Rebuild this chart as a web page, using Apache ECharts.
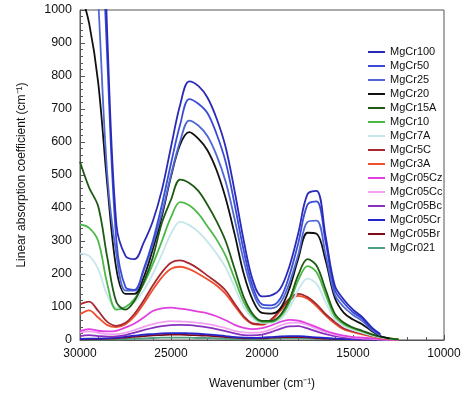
<!DOCTYPE html>
<html>
<head>
<meta charset="utf-8">
<script src="https://cdn.jsdelivr.net/npm/echarts@6/dist/echarts.min.js"></script>
<style>html,body{margin:0;padding:0;background:#fff}#c{width:474px;height:395px}</style>
</head>
<body>
<div id="c"></div>
<script>
const wavenumbers = [30000,29500,29000,28500,28000,27500,27000,26500,26000,25500,25000,24500,24000,23500,23000,22500,22000,21500,21000,20500,20000,19500,19000,18500,18000,17500,17000,16500,16000,15500,15000,14500,14000,13500,13000,12500];
const seriesNames = ['MgCr100','MgCr50','MgCr25','MgCr20','MgCr15A','MgCr10','MgCr7A','MgCr5C','MgCr3A','MgCr05Cz','MgCr05Cc','MgCr05Bc','MgCr05Cr','MgCr05Br','MgCr021'];
const mgCr100  = [2600,2200,1700,920,350,255,245,295,360,455,585,712,784,770,735,672,585,450,300,180,132,135,155,222,325,442,452,312,165,122,92,70,40,18,null,null];
const mgCr50   = [2400,2000,1500,850,300,160,152,215,300,410,535,652,730,716,688,625,540,410,270,160,108,105,125,195,295,410,420,295,152,112,84,65,36,16,null,null];
const mgCr25   = [2000,1500,1030,500,260,150,150,210,290,385,500,602,665,650,618,560,480,365,240,145,98,96,112,172,260,358,362,258,138,100,76,58,32,14,null,null];
const mgCr20   = [1060,960,780,470,215,140,140,190,275,375,495,592,630,610,575,515,430,320,200,120,82,80,95,155,248,325,322,240,128,82,62,48,28,12,4,null];
const mgCr15A  = [540,462,405,250,115,92,120,175,250,355,425,486,476,452,410,360,300,215,130,78,58,58,75,122,198,245,225,152,80,52,38,28,18,10,5,2];
const mgCr10   = [350,340,300,170,92,100,125,170,230,300,372,418,408,383,345,305,255,185,115,72,55,55,70,112,182,224,205,137,72,48,35,26,17,10,5,2];
const mgCr7A   = [262,255,215,135,98,100,115,150,200,260,322,358,348,328,298,262,220,160,100,65,52,52,62,96,152,186,170,114,62,42,30,22,14,8,4,2];
const mgCr5C   = [108,116,88,55,43,52,80,120,165,205,234,241,232,216,195,175,150,110,72,50,48,62,92,125,140,130,108,78,55,35,27,20,13,8,4,2];
const mgCr3A   = [78,90,68,45,39,48,72,110,152,190,216,222,215,201,184,165,140,103,68,48,46,58,88,120,134,125,102,74,50,32,24,17,11,6,3,1];
const mgCr05Cz = [27,33,28,26,28,38,50,68,88,96,98,95,91,86,81,72,60,46,37,33,36,44,55,61,59,50,39,28,19,13,9,7,5,3,2,1];
const mgCr05Cc = [22,26,22,18,18,22,30,40,48,54,57,56,55,52,48,43,36,28,23,22,24,32,44,52,53,45,34,24,16,11,7,5,4,2,1,1];
const mgCr05Bc = [12,15,12,10,11,15,22,30,37,42,45,46,45,42,38,33,27,20,15,14,16,24,34,41,42,35,26,18,12,8,5,4,3,2,1,0];
const mgCr05Cr = [3,4,4,5,7,10,13,16,18,20,21,21,20,19,17,15,12,9,7,6,7,9,11,12,12,10,8,6,4,3,2,2,1,1,1,0];
const mgCr05Br = [2,3,3,4,5,7,10,12,14,15,16,16,15,14,13,11,9,7,5,5,5,7,8,9,9,8,6,4,3,2,2,1,1,1,0,0];
const mgCr021  = [1,1,1,2,2,3,4,5,6,7,7,7,7,6,6,5,4,3,3,2,3,4,5,6,6,5,4,3,2,2,1,1,1,1,0,0];
const xTicks = [30000,25000,20000,15000,10000];
const yTicks = [0,100,200,300,400,500,600,700,800,900,1000];

const allValues = [mgCr100,mgCr50,mgCr25,mgCr20,mgCr15A,mgCr10,mgCr7A,mgCr5C,mgCr3A,mgCr05Cz,mgCr05Cc,mgCr05Bc,mgCr05Cr,mgCr05Br,mgCr021];
const colors = ['#2a2ab8','#3a4cd6','#5068d4','#111111','#1e5a14','#4cb848','#c6e6ec','#a82830','#ee5030','#e040e0','#f2a2f0','#8830c0','#2424c8','#800818','#50a080'];

const font = 'Liberation Sans, Arial, Helvetica, sans-serif';
const chart = echarts.init(document.getElementById('c'), null, {renderer:'canvas'});
const series = seriesNames.map((name, i) => ({
  name: name,
  type: 'line',
  data: wavenumbers.map((w, j) => [w, allValues[i][j]]),
  showSymbol: false,
  symbol: 'none',
  smooth: 0.35,
  clip: true,
  lineStyle: {color: colors[i], width: 1.8},
  itemStyle: {color: colors[i]},
  z: 20 - i
}));

chart.setOption({
  animation: false,
  backgroundColor: '#fff',
  textStyle: {fontFamily: font},
  grid: {left: 80, right: 30, top: 10, bottom: 54, show: true, borderColor: '#555', borderWidth: 1, backgroundColor: 'transparent'},
  legend: {
    orient: 'vertical', left: 363, top: 40,
    icon: 'rect', itemWidth: 17, itemHeight: 2, itemGap: 0,
    textStyle: {fontSize: 11, color: '#111', lineHeight: 14, fontFamily: font},
    data: seriesNames
  },
  xAxis: {
    type: 'value', min: 10000, max: 30000, interval: 5000, inverse: true,
    name: 'Wavenumber (cm\u207B\u00B9)', nameLocation: 'middle', nameGap: 38,
    nameTextStyle: {fontSize: 12, color: '#111', fontFamily: font},
    axisLine: {show: true, lineStyle: {color: '#555'}},
    axisTick: {show: true, inside: true, length: 5, lineStyle: {color: '#555'}},
    minorTick: {show: true, splitNumber: 5, length: 3, lineStyle: {color: '#555'}},
    splitLine: {show: false},
    axisLabel: {fontSize: 12, color: '#111', margin: 8, fontFamily: font,
      formatter: v => xTicks.includes(v) ? String(v) : ''}
  },
  yAxis: {
    type: 'value', min: 0, max: 1000, interval: 100,
    name: 'Linear absorption coefficient (cm\u207B\u00B9)', nameLocation: 'middle', nameGap: 52,
    nameTextStyle: {fontSize: 12, color: '#111', fontFamily: font},
    axisLine: {show: true, lineStyle: {color: '#555'}},
    axisTick: {show: true, inside: true, length: 5, lineStyle: {color: '#555'}},
    minorTick: {show: true, splitNumber: 5, length: 3, lineStyle: {color: '#555'}},
    splitLine: {show: false},
    axisLabel: {fontSize: 12.5, color: '#111', margin: 8, fontFamily: font,
      formatter: v => yTicks.includes(v) ? String(v) : ''}
  },
  series: series
});
</script>
</body>
</html>
